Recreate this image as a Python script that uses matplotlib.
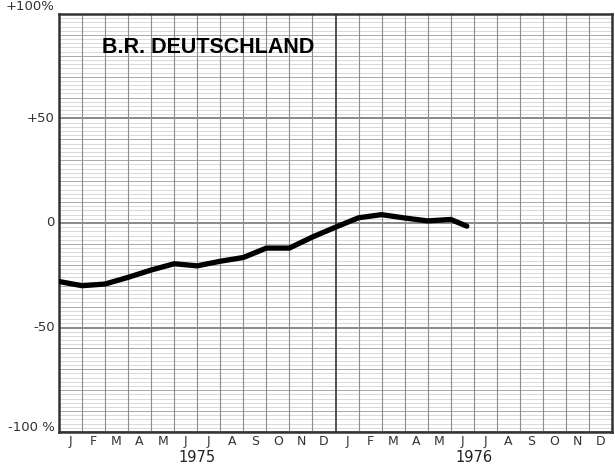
import matplotlib
matplotlib.use("Agg")
import matplotlib.pyplot as plt
import numpy as np

# Data
month_pos = [0, 1, 2, 3, 4, 5, 6, 7, 8, 9, 10, 11, 12, 13, 14, 15, 16, 17, 17.7]
values = [-28, -30, -29.2, -26, -22.5, -19.5, -20.5, -18.3, -16.5, -12, -12,
          -6.7, -2, 2.5, 4.0, 2.4, 1.0, 1.7, -1.5]
month_labels = ["J", "F", "M", "A", "M", "J", "J", "A", "S", "O", "N", "D"] * 2
year_labels = ["1975", "1976"]
ytick_vals = [100, 50, 0, -50, -100]
ytick_labels = ["+100%", "+50", "0", "-50", "-100 %"]
title = "B.R. DEUTSCHLAND"

fig = plt.figure(figsize=(6.15, 4.68), dpi=100)
ax = fig.add_axes([59/615, 36/468, 553/615, 418/468])
ax.set_xlim(0, 24)
ax.set_ylim(-100, 100)

# horizontal grid
for v in np.arange(-100, 101, 2):
    if v % 50 == 0:
        c, lw = "#6a6a6a", 1.1
    elif v % 10 == 0:
        c, lw = "#a8a8a8", 0.7
    else:
        c, lw = "#cfcfcf", 0.55
    ax.axhline(v, color=c, lw=lw, zorder=1)
# vertical grid
for m in range(25):
    if m == 12:
        ax.axvline(m, color="#444444", lw=1.3, zorder=1)
    else:
        ax.axvline(m, color="#8c8c8c", lw=0.8, zorder=1)

ax.plot(month_pos, values, color="black", lw=3.8, solid_capstyle="round",
        solid_joinstyle="round", zorder=3)

for s in ax.spines.values():
    s.set_color("#333333")
    s.set_linewidth(1.8)

ax.set_xticks([])
ax.set_yticks([])

tr = ax.get_yaxis_transform()
for v, lab in zip(ytick_vals, ytick_labels):
    dy = 0
    if v == 100:
        dy = 3.5
    elif v == -100:
        dy = 2
    ax.text(-0.008, v + dy, lab, transform=tr, ha="right", va="center",
            fontsize=9.5, color="#333333", family="DejaVu Sans")

for i, lab in enumerate(month_labels):
    ax.text(i + 0.5, -104.5, lab, ha="center", va="center", fontsize=9,
            color="#333333", clip_on=False)
for j, lab in enumerate(year_labels):
    ax.text(12 * j + 6, -112, lab, ha="center", va="center", fontsize=10.5,
            color="#222222", clip_on=False)

ax.text(1.85, 84, title, ha="left", va="center", fontsize=15.5, fontweight="bold",
        family="Liberation Sans", color="black", zorder=4)

fig.savefig("out.png", dpi=100)
